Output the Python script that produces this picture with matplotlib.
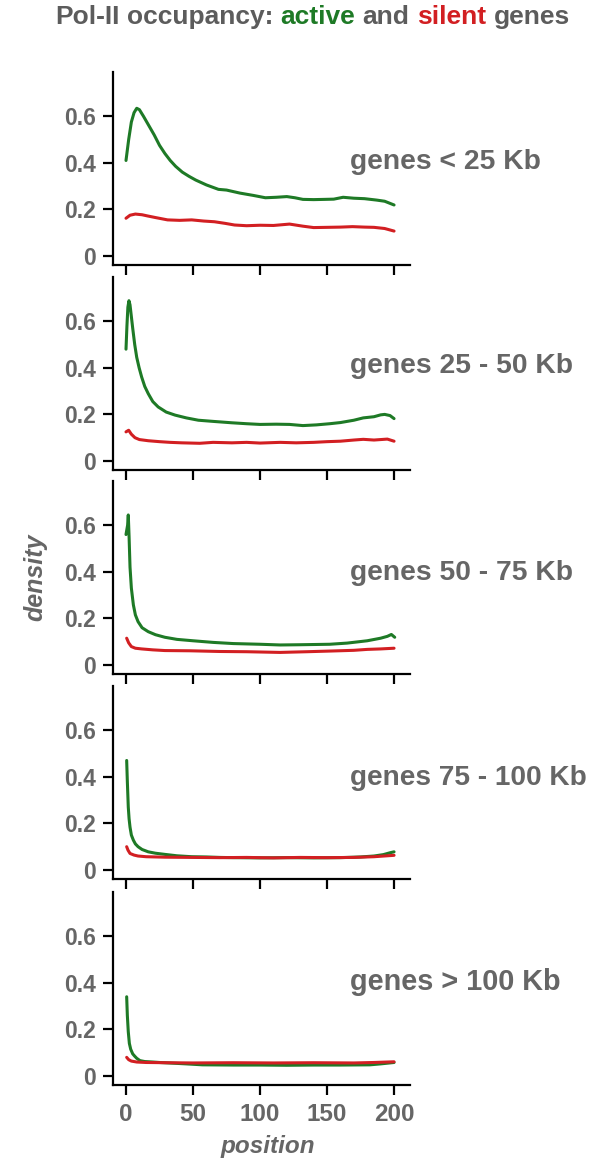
import matplotlib
matplotlib.use("Agg")
import matplotlib.pyplot as plt

plt.rcParams['font.family'] = ['Liberation Sans', 'DejaVu Sans']
plt.rcParams['font.weight'] = 'bold'

# ---------------- data ----------------
panel_labels = ["genes < 25 Kb", "genes 25 - 50 Kb", "genes 50 - 75 Kb",
                "genes 75 - 100 Kb", "genes > 100 Kb"]
x_ticks = [0, 50, 100, 150, 200]
y_ticks = [0, 0.2, 0.4, 0.6]
y_tick_labels = ["0", "0.2", "0.4", "0.6"]

p1_active_pos = [0, 2, 4, 6, 8, 10, 13, 17, 21, 25, 29, 33, 37, 42, 47, 52, 60, 69, 75, 85, 95,
                 104, 112, 120, 126, 132, 140, 148, 155, 162, 170, 178, 187, 193, 200]
p1_active_val = [0.41, 0.5, 0.575, 0.615, 0.634, 0.628, 0.6, 0.56, 0.52, 0.475, 0.44, 0.41,
                 0.385, 0.36, 0.342, 0.326, 0.305, 0.286, 0.283, 0.27, 0.26, 0.25, 0.252, 0.255,
                 0.25, 0.243, 0.242, 0.243, 0.244, 0.252, 0.248, 0.246, 0.24, 0.235, 0.219]
p1_silent_pos = [0, 3, 7, 12, 16, 22, 31, 40, 49, 58, 66, 74, 81, 90, 100, 110, 122, 132, 140,
                 150, 160, 169, 178, 185, 193, 200]
p1_silent_val = [0.162, 0.175, 0.18, 0.177, 0.172, 0.165, 0.155, 0.153, 0.155, 0.15, 0.147, 0.14,
                 0.133, 0.13, 0.132, 0.131, 0.137, 0.128, 0.122, 0.123, 0.124, 0.126, 0.124,
                 0.123, 0.118, 0.107]

p2_active_pos = [0, 0.7, 1.4, 2.2, 3, 4, 5, 6.5, 8, 9.8, 11.7, 14, 16.6, 20, 24, 30, 36.6, 45,
                 54, 65, 79, 90, 100, 112, 122, 132, 142, 152, 160, 170, 177, 185, 190, 193,
                 197, 200]
p2_active_val = [0.48, 0.58, 0.66, 0.688, 0.67, 0.62, 0.57, 0.5, 0.445, 0.4, 0.36, 0.32, 0.289,
                 0.255, 0.232, 0.21, 0.197, 0.185, 0.175, 0.17, 0.164, 0.16, 0.157, 0.158,
                 0.157, 0.152, 0.155, 0.16, 0.165, 0.175, 0.185, 0.19, 0.198, 0.2, 0.195, 0.182]
p2_silent_pos = [0, 2, 4, 6.7, 10, 16.6, 25, 33, 41.5, 55, 65, 79, 90, 100, 115, 127, 140, 150,
                 160, 170, 177, 185, 195, 200]
p2_silent_val = [0.125, 0.132, 0.115, 0.1, 0.092, 0.087, 0.083, 0.08, 0.078, 0.076, 0.08, 0.078,
                 0.08, 0.077, 0.08, 0.078, 0.08, 0.083, 0.085, 0.09, 0.093, 0.09, 0.094, 0.085]

p3_active_pos = [0, 1.2, 1.7, 2.3, 3, 4, 5.5, 7, 9, 12, 16.6, 22, 29, 38, 50, 65, 80, 100, 115,
                 130, 152, 165, 180, 190, 195, 198, 200.5]
p3_active_val = [0.56, 0.6, 0.644, 0.55, 0.42, 0.33, 0.258, 0.215, 0.186, 0.16, 0.143, 0.13,
                 0.119, 0.11, 0.104, 0.097, 0.092, 0.089, 0.086, 0.087, 0.089, 0.094, 0.104,
                 0.115, 0.123, 0.131, 0.119]
p3_silent_pos = [0.5, 2, 4, 7, 11.7, 20, 29, 48, 70, 90, 115, 135, 153, 170, 180, 190, 200]
p3_silent_val = [0.115, 0.095, 0.079, 0.072, 0.069, 0.065, 0.062, 0.061, 0.058, 0.057, 0.054,
                 0.057, 0.06, 0.063, 0.067, 0.069, 0.072]

p4_active_pos = [0.5, 1, 1.7, 2.3, 3, 4, 5.5, 7, 9, 12, 16.6, 22, 29, 38, 49, 60, 70, 80, 100,
                 120, 140, 160, 175, 185, 192, 197, 200]
p4_active_val = [0.47, 0.38, 0.27, 0.22, 0.184, 0.15, 0.128, 0.112, 0.1, 0.088, 0.078, 0.072,
                 0.067, 0.061, 0.057, 0.056, 0.054, 0.053, 0.052, 0.053, 0.052, 0.053, 0.056,
                 0.06, 0.066, 0.074, 0.078]
p4_silent_pos = [0.5, 1.5, 3, 6, 9, 15, 29, 50, 70, 90, 110, 130, 150, 170, 185, 200]
p4_silent_val = [0.1, 0.085, 0.071, 0.064, 0.06, 0.057, 0.055, 0.054, 0.053, 0.054, 0.052, 0.054,
                 0.053, 0.054, 0.057, 0.063]

p5_active_pos = [0.5, 1, 1.7, 2.5, 3.5, 5, 6.5, 8, 10.4, 14, 20, 25, 35, 45, 57, 80, 100, 120,
                 140, 160, 182, 190, 200]
p5_active_val = [0.34, 0.26, 0.19, 0.14, 0.115, 0.095, 0.085, 0.076, 0.066, 0.062, 0.06, 0.058,
                 0.055, 0.052, 0.048, 0.047, 0.047, 0.046, 0.047, 0.047, 0.048, 0.052, 0.058]
p5_silent_pos = [0.5, 2, 4, 8, 15, 30, 50, 80, 110, 140, 170, 185, 200]
p5_silent_val = [0.08, 0.07, 0.064, 0.06, 0.058, 0.057, 0.056, 0.057, 0.056, 0.057, 0.056,
                 0.058, 0.061]

active_pos = [p1_active_pos, p2_active_pos, p3_active_pos, p4_active_pos, p5_active_pos]
active_val = [p1_active_val, p2_active_val, p3_active_val, p4_active_val, p5_active_val]
silent_pos = [p1_silent_pos, p2_silent_pos, p3_silent_pos, p4_silent_pos, p5_silent_pos]
silent_val = [p1_silent_val, p2_silent_val, p3_silent_val, p4_silent_val, p5_silent_val]

# ---------------- styling / layout ----------------
W, H = 595, 1160
GREEN = '#1e7a26'
RED = '#d21f22'
GRAY = '#666666'
TGRAY = '#5c5c5c'

fig = plt.figure(figsize=(W / 100, H / 100), dpi=100)
fig.patch.set_facecolor('white')

zero_px = [256, 461, 665, 870, 1076]   # pixel row of y=0 in each panel
ppu = 233.0                             # pixels per density unit
ylo, yhi = -0.04, 0.79
left_px, right_px = 113, 410
xlo, xhi = -9.7, 211.9

axes = []
for i, y0 in enumerate(zero_px):
    top = y0 - yhi * ppu
    bot = y0 - ylo * ppu
    ax = fig.add_axes([left_px / W, 1 - bot / H, (right_px - left_px) / W, (bot - top) / H])
    ax.plot(active_pos[i], active_val[i], color=GREEN, lw=2.2, solid_capstyle='round',
            solid_joinstyle='round', zorder=2)
    ax.plot(silent_pos[i], silent_val[i], color=RED, lw=2.2, solid_capstyle='round',
            solid_joinstyle='round', zorder=3)
    ax.set_xlim(xlo, xhi)
    ax.set_ylim(ylo, yhi)
    ax.set_xticks(x_ticks)
    ax.set_yticks(y_ticks)
    ax.set_yticklabels(y_tick_labels)
    for s in ('top', 'right'):
        ax.spines[s].set_visible(False)
    for s in ('left', 'bottom'):
        ax.spines[s].set_linewidth(1.6)
        ax.spines[s].set_color('black')
    ax.tick_params(direction='out', length=7, width=1.6, color='black',
                   labelsize=16.5, labelcolor=GRAY, pad=5)
    if i < 4:
        ax.tick_params(axis='x', labelbottom=False)
    else:
        ax.tick_params(axis='x', pad=6, labelsize=17.5)
    ax.set_facecolor('none')
    axes.append(ax)

renderer = fig.canvas.get_renderer()


def width_px(t):
    return t.get_window_extent(renderer=renderer).width


def fit(t, target):
    for _ in range(3):
        w = width_px(t)
        t.set_fontsize(t.get_fontsize() * target / w)


# panel labels
label_right = [541, 573, 573, 587, 561]
label_base = [169, 373, 580, 785, 990]
for i, lab in enumerate(panel_labels):
    t = fig.text(350 / W, 1 - label_base[i] / H, lab, color=GRAY, fontsize=18,
                 fontweight='bold', ha='left', va='baseline')
    fit(t, label_right[i] - 350)

# axis labels
fig.text(268 / W, 1 - 1147 / H, "position", color=GRAY, fontsize=17.5, fontweight='bold',
         style='italic', ha='center', va='center')
fig.text(35 / W, 1 - 577 / H, "density", color=GRAY, fontsize=18, fontweight='bold',
         style='italic', ha='center', va='center', rotation=90)

# multi-coloured title
title_parts = [("Pol-II", TGRAY), ("occupancy:", TGRAY), ("active", GREEN), ("and", TGRAY),
               ("silent", RED), ("genes", TGRAY)]


def build_title(fs):
    objs = []
    probe = fig.text(0, 0, "a a", fontsize=fs, fontweight='bold')
    probe2 = fig.text(0, 0, "aa", fontsize=fs, fontweight='bold')
    space = width_px(probe) - width_px(probe2)
    probe.remove(); probe2.remove()
    x = 55.0
    for word, col in title_parts:
        t = fig.text(x / W, 1 - 24 / H, word, color=col, fontsize=fs, fontweight='bold',
                     ha='left', va='baseline')
        x += width_px(t) + space
        objs.append(t)
    return objs, x - space - 55.0


fs = 18
objs, total = build_title(fs)
for o in objs:
    o.remove()
fs = fs * 515.0 / total
objs, total = build_title(fs)

fig.savefig("out.png", dpi=100, facecolor='white')
